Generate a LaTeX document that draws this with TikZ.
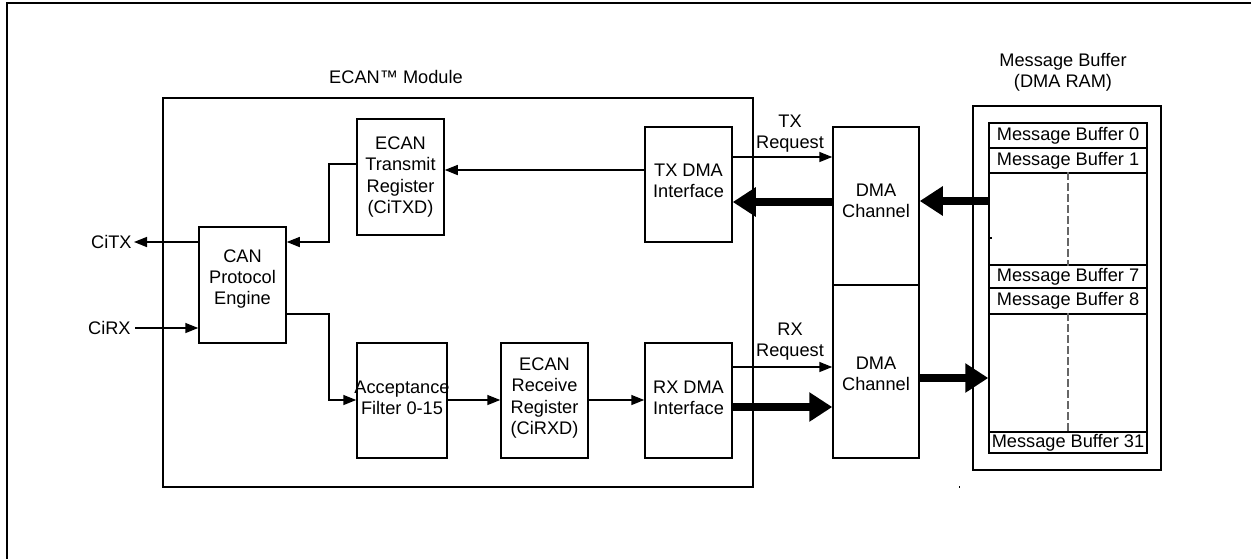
\documentclass[tikz,border=0pt]{standalone}
\usepackage{fontspec}
\setmainfont{Liberation Sans}
\usetikzlibrary{arrows.meta}
\begin{document}
\begin{tikzpicture}[x=0.5pt,y=-0.5pt,
  every node/.style={font=\fontsize{9.1}{10.6}\selectfont},
  box/.style={draw, line width=0.75pt, inner sep=0pt, align=center},
  lbl/.style={inner sep=0pt, align=center},
  thinarrow/.style={line width=0.75pt, -{Triangle[length=6.5pt,width=5pt]}},
  thickarrow/.style={line width=4pt, -{Triangle[length=11.5pt,width=14pt]}},
  dashline/.style={black!60, line width=0.6pt, dash pattern=on 4pt off 1.5pt}]
\useasboundingbox (0,0) rectangle (1251,558);
% outer frame (cut off at right and bottom)
\draw[line width=1pt] (1262,3) -- (7,3) -- (7,570);

% ECAN module
\node[box, minimum width=295pt, minimum height=194.5pt] (mod) at (458,292.5) {};
\node[lbl] (modlbl) at (396,77) {ECAN™ Module};

\node[box, minimum width=43.5pt, minimum height=58pt] (cpe) at (242.5,285) {};
\node[lbl] (cpetxt) at (242.5,279) {CAN\\Protocol\\Engine};

\node[box, minimum width=43.5pt, minimum height=58pt] (txr) at (400.5,177) {ECAN\\Transmit\\Register\\(CiTXD)};
\node[box, minimum width=43.5pt, minimum height=57.5pt] (txdma) at (688.5,184.5) {};
\node[lbl] (txdmatxt) at (688.5,181) {TX DMA\\Interface};

\node[box, minimum width=45pt, minimum height=57.5pt] (acc) at (402,400.5) {};
\node[lbl] (acctxt) at (402,398) {Acceptance\\Filter 0-15};
\node[box, minimum width=43.5pt, minimum height=57.5pt] (rxr) at (544.5,400.5) {};
\node[lbl] (rxrtxt) at (544.5,398) {ECAN\\Receive\\Register\\(CiRXD)};
\node[box, minimum width=43.5pt, minimum height=57.5pt] (rxdma) at (688.5,400.5) {};
\node[lbl] (rxdmatxt) at (688.5,398) {RX DMA\\Interface};

% DMA channels
\node[box, minimum width=43pt, minimum height=79pt] (dma1) at (876,206) {};
\node[lbl] (dma1txt) at (876,201) {DMA\\Channel};
\node[box, minimum width=43pt, minimum height=86.5pt] (dma2) at (876,371.5) {};
\node[lbl] (dma2txt) at (876,374) {DMA\\Channel};

% Message buffer
\node[lbl] (mbtitle) at (1063,72) {Message Buffer\\(DMA RAM)};
\node[box, minimum width=94pt, minimum height=182pt] (mbo) at (1067,288) {};
\node[box, minimum width=79pt, minimum height=12.5pt] (mb0) at (1068,135.5) {Message Buffer 0};
\node[box, minimum width=79pt, minimum height=12.5pt] (mb1) at (1068,160.5) {Message Buffer 1};
\node[box, minimum width=79pt, minimum height=46pt] (gapa) at (1068,219) {};
\node[box, minimum width=79pt, minimum height=11.5pt] (mb7) at (1068,276.5) {Message Buffer 7};
\node[box, minimum width=79pt, minimum height=13pt] (mb8) at (1068,301) {Message Buffer 8};
\node[box, minimum width=79pt, minimum height=59pt] (gapb) at (1068,373) {};
\node[box, minimum width=79pt, minimum height=10.5pt] (mb31) at (1068,442.5) {Message Buffer 31};
\draw[dashline] (gapa.north) -- (gapa.south);
\draw[dashline] (gapb.north) -- (gapb.south);

% pins
\node[lbl, anchor=east, inner sep=1pt] (citx) at (134,242) {CiTX};
\node[lbl, anchor=east, inner sep=2pt] (cirx) at (135,328) {CiRX};

% request labels
\node[lbl] (txreq) at (790,134) {TX\\Request};
\node[lbl] (rxreq) at (790,342) {RX\\Request};

% thin connectors
\draw[thinarrow] (txdma.west |- 0,170) -- (txr.east |- 0,170);
\draw[thinarrow] (txr.west |- 0,164) -- (329,164) -- (329,242) -- (cpe.east |- 0,242);
\draw[thinarrow] (cpe.west |- 0,242) -- (citx.east);
\draw[thinarrow] (cirx.east) -- (cpe.west |- 0,328);
\draw[thinarrow] (cpe.east |- 0,314) -- (329,314) -- (329,400) -- (acc.west |- 0,400);
\draw[thinarrow] (acc.east |- 0,400) -- (rxr.west |- 0,400);
\draw[thinarrow] (rxr.east |- 0,400) -- (rxdma.west |- 0,400);
\draw[thinarrow] (txdma.east |- 0,157) -- (dma1.west |- 0,157);
\draw[thinarrow] (rxdma.east |- 0,367) -- (dma2.west |- 0,367);

% thick data paths
\draw[thickarrow] (dma1.west |- 0,202) -- (txdma.east |- 0,202);
\draw[thickarrow] (rxdma.east |- 0,407) -- (dma2.west |- 0,407);
\draw[thickarrow] (gapa.west |- 0,201) -- (dma1.east |- 0,201);
\draw[thickarrow] (dma2.east |- 0,378) -- (gapb.west |- 0,378);

% small marks
\draw[line width=0.6pt] (gapa.west |- 0,238) -- (992,238);
\fill (958.5,486) rectangle (960,487.5);
\end{tikzpicture}
\end{document}
